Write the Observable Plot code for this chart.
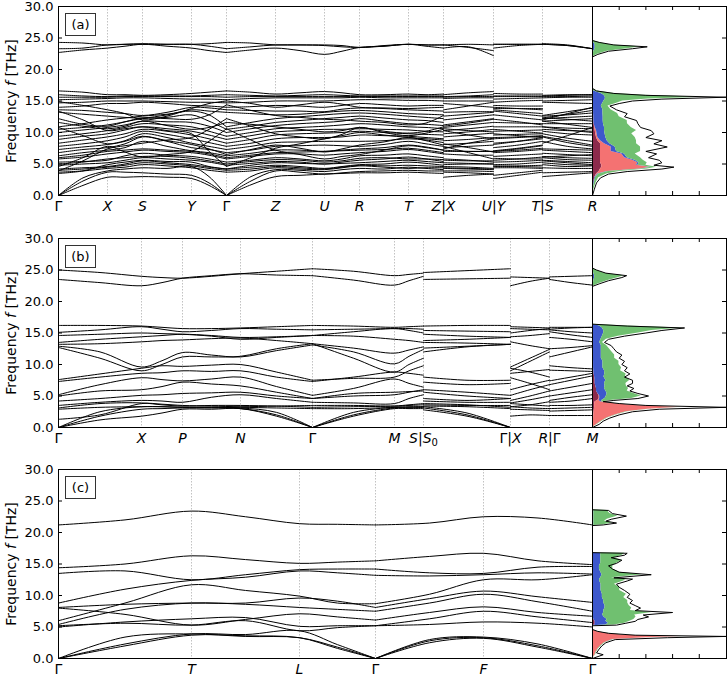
<!DOCTYPE html>
<html>
<head>
<meta charset="utf-8">
<script src="https://cdn.jsdelivr.net/npm/d3@7"></script>
<script src="https://cdn.jsdelivr.net/npm/@observablehq/plot@0.6"></script>
<style>
  body { margin: 0; background: white; font-family: "DejaVu Sans", sans-serif; }
  #root { position: relative; width: 728px; height: 678px; background: white; overflow: hidden; }
  .abs { position: absolute; }
  .ylab { position: absolute; font-size: 14px; white-space: nowrap; transform-origin: center center; transform: translate(-50%, -50%) rotate(-90deg); }
  .plab { position: absolute; border: 1px solid #333; font-size: 13px; width: 29px; height: 21px; line-height: 21px; text-align: center; background: white; }
</style>
</head>
<body>
<div id="root"></div>
<script>
// ---------------- Panel (a) ----------------
const tickPosA = [0, 0.49, 0.84, 1.33, 1.68, 2.17, 2.66, 3.01, 3.50, 3.85, 4.35, 4.84, 5.34];
const tickLabA = ["Γ", "X", "S", "Y", "Γ", "Z", "U", "R", "T", "Z|X", "U|Y", "T|S", "R"];
const kinkA = [1.68];
const qA = [0, 0.245, 0.49, 0.665, 0.84, 1.085, 1.33, 1.505, 1.68, 1.925, 2.17, 2.415, 2.66, 2.835, 3.01, 3.255, 3.50, 3.675, 3.85,
            3.85, 4.10, 4.35, 4.35, 4.595, 4.84, 4.84, 5.09, 5.34];
const pieceA = [0,0,0,0,0,0,0,0,0,0,0,0,0,0,0,0,0,0,0, 1,1,1, 2,2,2, 3,3,3];
const bandsA = [
  [0,1.6,2.9,2.9,3.0,2.9,2.7,1.6,0, 1.7,3.0,3.2,3.4,3.5,3.6,3.6,3.7,3.6,3.5, 2.9,3.2,3.4, 2.7,3.2,3.7, 3.0,3.3,3.6],
  [0,2.3,3.7,3.7,3.6,3.4,3.2,2.0,0, 2.3,3.9,3.7,3.4,3.6,3.8,3.9,4.0,3.9,3.9, 3.7,3.6,3.4, 3.2,3.6,4.0, 3.6,3.7,3.8],
  [0,2.8,3.9,4.2,4.4,4.3,4.6,3.0,0, 3.0,4.1,4.0,3.8,4.1,4.3,4.2,4.5,4.3,4.1, 3.9,3.9,3.8, 4.6,4.6,4.5, 4.4,4.3,4.3],
  [3.5,3.9,4.9,5.3,5.6,5.4,5.3,4.6,4.2, 4.8,5.2,5.1,5.0,5.1,5.2,5.4,5.6,5.4,5.2, 4.9,5.0,5.0, 5.3,5.4,5.6, 5.6,5.4,5.2],
  [3.7,3.9,4.3,4.5,4.9,4.7,4.4,4.0,3.7, 3.9,4.4,4.2,4.1,4.4,4.7,4.5,4.3,4.4,4.4, 4.3,4.2,4.1, 4.4,4.4,4.3, 4.9,4.6,4.7],
  [3.9,5.5,7.4,7.9,8.3,8.8,9.2,10.5,12.2, 11.0,9.8,9.3,9.0,9.7,10.8,10.0,9.5,9.9,10.5, 7.4,8.3,9.0, 9.2,9.3,9.5, 8.3,9.5,10.8],
  [4.0,4.2,4.5,4.8,5.2,5.0,4.7,4.3,4.0, 4.2,4.6,4.4,4.2,4.5,4.8,4.7,4.8,4.7,4.6, 4.4,4.3,4.2, 4.7,4.7,4.8, 5.2,4.9,4.8],
  [4.2,4.4,4.6,5.0,5.5,5.2,4.9,4.5,4.2, 4.5,4.8,4.6,4.3,4.6,4.9,5.0,5.3,5.1,4.8, 4.6,4.5,4.3, 4.9,5.0,5.3, 5.5,5.2,4.9],
  [4.6,6.0,7.8,6.9,6.1,6.5,7.0,8.6,10.6, 8.8,7.2,6.5,5.8,6.2,6.5,7.2,7.9,7.6,7.2, 7.8,6.8,5.8, 7.0,7.4,7.9, 6.1,6.3,6.5],
  [4.8,5.0,5.2,5.6,6.0,5.8,5.6,5.3,4.8, 5.1,5.4,5.3,5.0,5.3,5.6,5.8,6.1,5.8,5.4, 5.2,5.1,5.0, 5.6,5.8,6.1, 6.0,5.7,5.6],
  [5.0,5.3,5.8,6.0,6.2,6.2,5.9,5.5,5.0, 5.4,5.7,5.6,5.3,5.5,5.9,6.0,5.8,5.8,5.7, 5.8,5.6,5.3, 5.9,5.8,5.8, 6.2,6.0,5.9],
  [5.3,5.4,5.6,6.3,6.7,6.4,6.2,5.8,5.3, 5.6,6.0,5.8,5.5,5.8,6.3,6.4,6.6,6.3,6.0, 5.6,5.5,5.5, 6.2,6.4,6.6, 6.7,6.5,6.3],
  [5.8,6.1,6.6,6.9,7.2,7.0,6.8,6.4,5.8, 6.2,6.6,6.6,6.4,6.6,6.8,7.0,7.3,7.0,6.6, 6.6,6.4,6.4, 6.8,7.0,7.3, 7.2,7.0,6.8],
  [6.0,6.4,7.0,7.2,7.4,7.2,7.0,6.6,6.0, 6.4,6.8,6.9,7.0,7.1,7.2,7.3,7.5,7.2,6.8, 7.0,7.0,7.0, 7.0,7.2,7.5, 7.4,7.3,7.2],
  [6.3,6.8,7.2,7.6,8.6,7.8,7.1,6.8,6.3, 6.7,7.2,7.2,7.0,7.2,7.4,7.6,8.0,7.7,7.2, 7.2,7.0,7.0, 7.1,7.5,8.0, 8.6,7.8,7.4],
  [6.8,7.3,7.6,8.2,9.3,8.6,7.6,7.3,6.8, 7.2,7.8,7.9,8.0,7.9,7.8,8.1,8.6,8.2,7.8, 7.6,7.8,8.0, 7.6,8.0,8.6, 9.3,8.4,7.8],
  [7.3,7.7,8.1,8.7,9.8,9.2,8.3,7.8,7.3, 7.8,8.4,8.5,8.6,8.6,8.6,8.7,9.0,8.8,8.4, 8.1,8.3,8.6, 8.3,8.6,9.0, 9.8,9.1,8.6],
  [7.8,8.2,8.7,9.3,10.2,9.7,9.0,8.4,7.8, 8.3,9.0,9.2,9.2,9.3,9.6,9.5,9.4,9.2,9.0, 8.7,8.9,9.2, 9.0,9.2,9.4, 10.2,9.8,9.6],
  [8.3,8.8,9.3,9.8,10.5,10.2,9.6,9.0,8.3, 8.9,9.6,9.8,9.9,10.0,10.2,10.0,9.8,9.7,9.6, 9.3,9.6,9.9, 9.6,9.7,9.8, 10.5,10.3,10.2],
  [8.9,9.4,9.8,10.4,10.9,10.6,10.2,9.6,8.9, 9.5,10.1,10.3,10.5,10.5,10.6,10.5,10.4,10.2,10.1, 9.8,10.1,10.5, 10.2,10.3,10.4, 10.9,10.7,10.6],
  [9.4,9.8,10.3,10.8,11.4,11.2,10.9,10.2,9.4, 10.0,10.6,10.8,11.0,11.2,11.4,11.2,10.9,10.8,10.6, 10.3,10.6,11.0, 10.9,10.9,10.9, 11.4,11.4,11.4],
  [10.0,10.4,10.8,11.2,11.8,11.7,11.6,11.0,10.0, 10.6,11.1,11.4,11.6,11.8,12.2,11.8,11.4,11.3,11.1, 10.8,11.2,11.6, 11.6,11.5,11.4, 11.8,12.0,12.2],
  [10.5,10.8,11.2,11.7,12.2,12.4,12.8,11.8,10.5, 11.0,11.6,11.9,12.2,12.4,12.6,12.3,12.0,11.9,11.6, 11.2,11.7,12.2, 12.8,12.4,12.0, 12.2,12.4,12.6],
  [10.8,9.5,8.2,8.6,9.4,8.7,8.1,7.4,6.5, 7.3,8.0,7.5,6.9,7.4,8.0,8.5,9.2,8.7,8.0, 8.2,7.6,6.9, 8.1,8.6,9.2, 9.4,8.7,8.0],
  [10.9,11.4,12.0,12.3,12.6,12.9,13.4,12.8,10.9, 11.6,12.2,12.5,12.8,13.0,13.1,12.9,12.6,12.4,12.2, 12.0,12.4,12.8, 13.4,13.0,12.6, 12.6,12.8,13.1],
  [11.6,11.0,10.6,11.0,11.8,11.1,10.5,10.8,11.6, 11.3,10.9,10.5,10.1,10.3,10.8,10.2,9.9,10.2,10.9, 10.6,10.3,10.1, 10.5,10.2,9.9, 11.8,11.3,10.8],
  [12.2,11.3,11.0,11.7,12.3,12.2,12.1,12.8,14.4, 13.5,12.7,12.4,12.1,12.0,11.8,11.6,11.2,11.5,12.7, 11.0,11.5,12.1, 12.1,11.7,11.2, 12.3,12.1,11.8],
  [13.2,12.9,12.6,12.4,12.3,12.8,13.6,13.4,13.2, 13.0,12.8,12.9,13.2,13.4,13.5,13.3,13.0,12.9,12.8, 12.6,12.9,13.2, 13.6,13.3,13.0, 12.3,12.9,13.5],
  [13.4,12.0,10.3,10.6,10.9,10.3,9.8,7.0,4.6, 6.0,7.5,8.2,9.0,9.5,10.0,9.6,9.2,9.0,8.8, 10.3,9.6,9.0, 9.8,9.5,9.2, 10.9,10.4,10.0],
  [13.6,13.5,13.2,13.0,12.7,13.2,14.0,13.9,13.6, 13.5,13.4,13.4,13.3,13.7,13.9,13.8,13.6,13.5,13.4, 13.2,13.3,13.3, 14.0,13.8,13.6, 12.7,13.3,13.9],
  [14.0,14.2,14.6,14.6,14.8,14.6,14.3,14.2,14.0, 14.1,14.3,14.2,14.0,14.3,14.6,14.4,14.2,14.3,14.3, 14.6,14.3,14.0, 14.3,14.2,14.2, 14.8,14.7,14.6],
  [14.9,14.3,13.6,13.0,12.0,12.6,13.8,14.6,15.0, 14.6,14.0,14.4,14.8,14.5,14.0,13.9,13.8,13.9,14.0, 13.6,14.2,14.8, 13.8,13.8,13.8, 12.0,13.0,14.0],
  [14.7,14.8,15.0,15.0,15.0,14.9,14.8,14.8,14.7, 14.8,15.0,15.0,15.0,15.1,15.2,15.2,15.1,15.1,15.0, 15.0,15.0,15.0, 14.8,15.0,15.1, 15.0,15.1,15.2],
  [15.2,15.3,15.4,15.5,15.5,15.4,15.3,15.3,15.2, 15.4,15.5,15.5,15.5,15.5,15.6,15.5,15.5,15.5,15.5, 15.4,15.5,15.5, 15.3,15.4,15.5, 15.5,15.6,15.6],
  [15.6,15.6,15.6,15.7,15.7,15.7,15.7,15.7,15.6, 15.7,15.7,15.7,15.7,15.7,15.7,15.7,15.7,15.7,15.7, 15.6,15.7,15.7, 15.7,15.7,15.7, 15.7,15.7,15.8],
  [16.0,15.8,15.7,15.8,15.8,15.8,15.8,15.9,16.0, 15.9,15.8,15.9,16.0,15.9,15.8,15.8,15.8,15.8,15.8, 15.7,15.8,16.0, 15.8,15.8,15.8, 15.8,15.9,16.0],
  [16.6,16.4,16.0,16.0,15.9,16.0,16.2,16.4,16.6, 16.4,16.1,16.3,16.5,16.3,16.0,16.0,16.1,16.0,16.1, 16.0,16.3,16.5, 16.2,16.1,16.1, 15.9,16.0,16.0],
  [22.7,23.1,23.4,23.7,24.0,23.7,23.4,23.0,22.7, 23.1,23.4,23.0,22.4,22.9,23.5,23.7,24.0,23.7,23.4, 23.4,23.6,22.2, 23.4,23.8,24.0, 24.0,23.8,23.3],
  [23.3,23.4,23.9,24.0,24.0,24.0,24.0,23.7,23.3, 23.6,23.9,23.9,23.8,23.6,23.5,23.7,24.0,23.9,23.9, 23.9,23.5,23.0, 24.0,24.0,24.0, 24.0,23.8,23.3],
  [24.3,24.2,23.9,24.0,24.1,24.0,24.0,24.1,24.3, 24.2,23.9,23.9,23.9,23.8,23.5,23.8,24.0,23.9,23.9, 23.9,24.0,23.9, 24.0,24.0,24.0, 24.1,23.9,23.3]
];
// DOS (a): frequency, then stacked partial widths and total
const dosFreqA = [0,1.0,2.0,2.8,3.4,3.8,4.2,4.5,4.8,5.2,5.6,6.0,6.6,7.0,7.7,8.2,8.7,9.2,9.8,10.3,10.8,11.4,11.9,12.5,13.0,13.6,14.2,14.6,15.0,15.3,15.6,15.9,16.2,16.6,17.0,22.0,22.4,22.9,23.3,23.6,23.9,24.3,24.6,30];
const dosP1A = [0,0.02,0.05,0.08,0.15,0.25,0.3,0.35,0.35,0.3,0.3,0.3,0.3,0.3,0.3,0.3,0.2,0.15,0.12,0.1,0.08,0.06,0.05,0.05,0.04,0.04,0.03,0.03,0.03,0.03,0.03,0.03,0.02,0,0,0,0,0,0,0,0,0,0,0];
const dosP2A = [0,0,0,0,0.05,0.3,1.5,1.8,1.3,1.4,1.2,0.9,0.8,0.4,0.4,0.15,0.1,0.05,0.05,0.05,0.02,0,0,0,0,0,0,0,0,0,0,0,0,0,0,0,0,0,0,0,0,0,0,0];
const dosP3A = [0,0,0.02,0.03,0.03,0.05,0.05,0.05,0.05,0.05,0.1,0.1,0.1,0.2,0.15,0.2,0.25,0.3,0.3,0.3,0.35,0.35,0.35,0.35,0.35,0.35,0.3,0.35,0.4,0.45,0.45,0.4,0.3,0.05,0,0,0.02,0.05,0.1,0.1,0.1,0.05,0,0];
const dosP4A = [0,0.03,0.06,0.12,0.3,0.4,0.2,0.2,0.3,0.3,0.3,0.5,0.4,0.9,0.95,1.0,1.1,1.1,1.0,1.2,1.0,0.9,0.9,0.6,0.55,0.3,0.25,0.5,0.7,1.6,3.7,1.5,0.5,0.1,0,0,0.15,0.5,1.2,1.7,0.6,0.2,0,0];
const dosTotalA = [0,0.07,0.15,0.3,0.6,1.3,2.6,3.05,2.3,2.6,2.5,2.1,2.4,2.0,2.8,2.3,2.6,2.0,2.3,2.2,1.8,1.7,1.65,1.2,1.3,0.9,0.65,1.0,1.5,2.6,5.0,2.0,0.8,0.15,0,0,0.2,0.6,1.5,2.05,0.8,0.25,0,0];

// ---------------- Panel (b) ----------------
const tickPosB = [0, 0.83, 1.24, 1.82, 2.54, 3.36, 3.65, 4.52, 4.91, 5.34];
const tickLabB = ["Γ", "X", "P", "N", "Γ", "M", "S|S0", "Γ|X", "R|Γ", "M"];
const kinkB = [2.54];
const qB = [0, 0.415, 0.83, 1.035, 1.24, 1.53, 1.82, 2.18, 2.54, 2.95, 3.36, 3.505, 3.65,
            3.65, 4.085, 4.52, 4.52, 4.715, 4.91, 4.91, 5.125, 5.34];
const pieceB = [0,0,0,0,0,0,0,0,0,0,0,0,0, 1,1,1, 2,2,2, 3,3,3];
const bandsB = [
  [0,1.2,1.8,2.3,2.9,2.9,3.0,1.8,0,1.8,3.0,3.0,3.0, 2.8,1.8,0, 1.8,2.0,1.9, 1.9,1.9,1.9],
  [0,1.8,2.9,3.0,3.1,3.1,3.0,2.0,0,2.0,3.1,3.1,3.2, 3.1,2.0,0, 2.9,2.8,2.7, 2.6,2.7,2.8],
  [0,2.5,3.3,3.3,3.2,3.2,3.1,2.4,0,2.4,3.2,3.2,3.3, 3.3,2.3,0, 3.3,3.1,3.0, 3.0,3.1,3.2],
  [1.3,2.0,3.8,3.7,3.5,3.4,3.3,3.4,3.5,3.5,3.4,3.5,3.6, 3.6,3.5,3.5, 3.8,3.6,3.4, 3.5,3.5,3.6],
  [2.9,3.2,3.3,3.3,3.2,3.2,3.2,3.1,3.0,3.0,3.2,3.3,3.3, 3.4,3.3,3.0, 3.3,3.6,4.1, 4.0,4.2,4.6],
  [3.1,3.8,3.9,3.6,3.4,3.5,3.5,3.4,3.2,3.3,3.4,3.6,3.8, 3.8,3.6,3.2, 3.9,4.4,5.0, 4.3,4.8,5.2],
  [3.5,4.0,4.3,4.2,4.0,4.8,5.2,4.6,4.0,3.9,3.8,4.6,5.2, 4.2,4.0,4.0, 4.3,5.0,5.8, 5.0,5.5,6.0],
  [4.2,4.6,5.1,5.2,5.4,5.5,5.6,5.0,4.6,5.0,5.2,5.6,6.0, 4.6,4.3,4.6, 5.1,6.0,6.8, 5.8,6.4,7.0],
  [5.0,5.8,6.0,6.5,7.2,6.9,6.6,5.6,4.6,5.4,5.6,5.7,5.8, 5.6,5.0,4.6, 6.0,6.8,7.5, 6.8,7.5,8.2],
  [5.2,6.8,7.9,7.6,7.4,7.7,8.0,6.5,5.1,6.2,7.7,7.0,6.4, 6.0,5.6,5.1, 7.9,7.0,6.0, 7.4,8.0,8.6],
  [7.3,8.0,8.6,8.7,9.0,8.9,9.0,8.0,7.3,8.0,8.8,8.6,8.3, 7.2,6.8,7.0, 8.6,8.9,9.2, 9.1,9.0,8.9],
  [7.6,8.5,9.4,9.8,9.7,9.9,10.0,8.8,7.5,7.8,8.0,9.0,9.8, 8.0,7.5,7.5, 9.4,8.8,8.0, 9.8,9.5,9.3],
  [12.7,11.0,9.0,10.0,11.2,11.2,11.3,12.5,13.3,11.0,8.8,10.0,11.0, 12.0,12.8,13.2, 9.0,10.5,12.0, 11.2,12.0,12.8],
  [12.9,12.0,9.6,10.6,11.9,11.5,11.2,12.2,13.1,12.0,10.1,11.3,12.4, 12.6,12.9,13.2, 9.6,11.0,12.4, 12.5,12.7,13.0],
  [13.2,13.3,13.6,13.8,13.9,14.1,14.2,13.8,13.3,12.6,11.8,12.3,12.8, 13.5,13.4,13.2, 13.6,13.0,12.5, 14.3,14.0,13.6],
  [13.5,14.0,14.4,14.6,14.8,14.6,14.3,14.4,14.6,14.5,14.0,13.8,13.5, 13.8,14.0,14.3, 14.4,14.6,14.9, 15.2,14.7,14.3],
  [14.6,14.8,15.0,14.9,14.8,14.5,14.0,14.3,14.6,15.2,15.7,15.4,15.0, 14.8,14.5,14.3, 15.0,15.4,15.7, 15.5,15.2,15.0],
  [15.1,15.5,16.0,15.6,15.2,15.4,15.7,15.6,15.5,15.6,15.7,15.7,15.6, 15.4,15.3,15.2, 15.7,15.6,15.5, 15.6,15.8,15.9],
  [16.2,16.2,16.1,15.9,15.7,15.7,15.8,16.0,16.2,16.1,15.9,16.0,16.1, 16.1,16.2,16.2, 16.0,15.9,15.8, 15.9,15.9,15.9],
  [23.5,23.0,22.5,23.0,23.7,24.1,24.4,24.2,24.1,23.4,22.6,23.3,24.0, 23.5,23.6,23.7, 22.5,23.2,23.7, 23.5,23.0,22.6],
  [25.0,24.6,24.0,23.8,23.7,24.0,24.4,24.8,25.2,24.8,24.1,24.3,24.5, 24.6,24.9,25.2, 23.9,23.8,23.7, 23.9,24.0,24.1]
];
const dosFreqB = [0,0.5,1.0,1.5,2.0,2.5,2.9,3.2,3.5,3.8,4.1,4.3,4.6,5.0,5.4,5.8,6.2,6.6,7.0,7.5,8.0,8.5,9.0,9.5,10.0,10.5,11.0,11.5,12.0,12.5,13.0,13.5,14.0,14.5,15.0,15.4,15.8,16.1,16.4,22.4,22.8,23.3,23.8,24.1,24.5,25.0,25.3,30];
const dosP1B = [0,0.02,0.03,0.04,0.05,0.06,0.07,0.08,0.08,0.08,0.1,0.2,0.25,0.25,0.2,0.15,0.15,0.12,0.1,0.1,0.08,0.06,0.05,0.04,0.04,0.04,0.03,0.03,0.03,0.03,0.03,0.02,0.02,0.02,0.02,0.02,0.02,0.02,0,0,0,0,0,0,0,0,0,0];
const dosP2B = [0,0.15,0.3,0.5,0.8,1.2,2.0,3.2,1.5,0.7,0.2,0.05,0.02,0.02,0,0,0,0,0,0,0,0,0,0,0,0,0,0,0,0,0,0,0,0,0,0,0,0,0,0,0,0,0,0,0,0,0,0];
const dosP3B = [0,0,0,0,0,0,0,0.02,0.02,0.02,0.05,0.1,0.2,0.25,0.35,0.35,0.3,0.35,0.35,0.4,0.35,0.4,0.4,0.35,0.35,0.35,0.3,0.3,0.3,0.3,0.3,0.25,0.3,0.35,0.4,0.4,0.35,0.25,0,0,0.03,0.05,0.08,0.08,0.05,0.02,0,0];
const dosP4B = [0,0.02,0.03,0.03,0.04,0.05,0.05,0.05,0.05,0.05,0.05,0.3,1.0,1.3,1.0,0.8,0.9,0.8,0.8,0.9,0.8,0.8,0.6,0.7,0.6,0.6,0.5,0.5,0.4,0.3,0.2,0.1,0.2,0.6,1.3,1.8,3.0,1.0,0,0,0.2,0.5,0.9,1.1,0.4,0.1,0,0];
const dosTotalB = [0,0.25,0.4,0.65,1.0,1.5,2.5,5.0,2.0,1.0,0.4,0.8,1.7,2.1,1.7,1.4,1.55,1.3,1.5,1.5,1.2,1.4,1.2,1.3,1.1,1.2,1.0,1.1,0.9,0.8,0.7,0.45,0.6,1.2,2.0,2.6,3.45,1.3,0,0,0.25,0.6,1.1,1.28,0.5,0.15,0,0];

// ---------------- Panel (c) ----------------
const tickPosC = [0, 1.33, 2.41, 3.17, 4.25, 5.34];
const tickLabC = ["Γ", "T", "L", "Γ", "F", "Γ"];
const kinkC = [3.17];
const qC = [0, 0.665, 1.33, 1.87, 2.41, 2.79, 3.17, 3.71, 4.25, 4.795, 5.34];
const pieceC = [0,0,0,0,0,0,0,0,0,0,0];
const bandsC = [
  [0,2.0,3.7,3.6,3.3,1.6,0,2.5,3.2,1.8,0],
  [0,2.3,3.9,3.8,4.4,2.2,0,3.0,3.4,2.3,0],
  [0,3.4,3.9,3.5,3.3,1.8,0,2.8,3.3,2.0,0],
  [5.2,5.6,5.3,6.0,4.4,4.9,5.2,5.4,5.8,5.6,5.0],
  [5.0,5.8,6.3,6.5,5.1,5.2,5.2,6.3,7.5,6.6,5.7],
  [8.0,7.0,5.3,6.2,7.1,6.6,6.1,7.3,8.2,7.3,6.7],
  [5.4,7.8,8.8,8.6,8.1,7.8,7.5,8.8,10.2,9.0,7.5],
  [8.1,8.6,8.8,8.8,9.6,9.1,8.1,9.5,10.7,9.8,8.9],
  [6.0,8.8,11.7,10.8,9.9,8.8,8.7,10.2,12.5,12.5,13.3],
  [8.8,11.0,12.4,12.9,13.9,13.6,13.2,13.1,13.3,13.6,13.4],
  [13.5,13.9,12.5,13.3,14.1,14.2,14.2,13.6,13.5,14.5,14.6],
  [14.4,15.0,16.3,15.7,15.1,15.3,15.5,16.2,16.7,15.5,14.9],
  [21.2,22.0,23.4,22.5,21.4,21.3,21.2,21.5,22.5,22.3,21.2]
];
const dosFreqC = [0,0.6,0.9,1.5,2.0,2.5,3.0,3.3,3.5,3.7,4.0,4.3,4.6,5.2,5.3,5.6,5.9,6.2,6.6,6.9,7.3,7.6,8.0,8.4,8.8,9.2,9.7,10.2,10.8,11.3,11.8,12.3,12.6,12.8,13.3,13.7,14.2,14.7,15.1,15.6,16.0,16.4,16.7,16.8,21.1,21.2,21.5,21.8,22.1,22.6,23.0,23.5,23.6,30];
const dosP1C = [0,0,0,0,0,0,0,0,0,0,0,0,0,0,0.1,0.1,0.1,0.05,0.03,0.03,0.02,0.02,0.02,0.02,0.02,0.02,0.02,0.02,0.02,0.02,0.02,0.02,0.02,0.01,0.01,0.01,0.01,0.01,0.01,0.01,0.01,0.01,0.01,0,0,0,0,0,0,0,0,0,0,0];
const dosP2C = [0,0.1,0.12,0.2,0.3,0.45,0.75,2.0,3.3,1.2,0.5,0.15,0,0,0,0,0,0,0,0,0,0,0,0,0,0,0,0,0,0,0,0,0,0,0,0,0,0,0,0,0,0,0,0,0,0,0,0,0,0,0,0,0,0];
const dosP3C = [0,0,0,0,0,0,0.02,0.02,0.02,0.02,0.02,0,0,0,0.4,0.5,0.4,0.5,0.4,0.35,0.4,0.4,0.45,0.45,0.4,0.4,0.35,0.35,0.3,0.3,0.3,0.25,0.25,0.3,0.35,0.3,0.25,0.25,0.3,0.3,0.3,0.3,0.3,0,0,0.05,0.05,0.05,0.05,0.05,0.05,0.05,0,0];
const dosP4C = [0,0.02,0.02,0.02,0.03,0.03,0.03,0.03,0.05,0.05,0.05,0.02,0,0,0.3,0.6,0.9,1.0,1.2,1.2,1.8,1.0,1.0,0.9,0.9,0.9,0.8,0.9,0.7,0.7,0.5,0.9,1.0,0.4,1.5,0.7,0.5,0.5,0.6,0.8,0.5,0.8,0.9,0,0,0.3,0.7,0.4,0.5,0.9,0.6,0.5,0,0];
const dosTotalC = [0,0.4,0.15,0.25,0.35,0.5,0.85,2.8,5.0,1.6,0.6,0.2,0,0,0.9,1.25,1.6,1.7,2.1,1.9,3.0,1.6,1.8,1.6,1.4,1.5,1.3,1.4,1.2,1.0,0.9,1.3,1.5,0.8,2.2,1.0,0.75,0.6,0.9,1.1,0.7,1.2,1.3,0,0,0.4,0.9,0.5,0.7,1.27,0.75,0.6,0,0];

const freqTicks = [0, 5, 10, 15, 20, 25, 30];
const dosTicks = [1, 2, 3, 4];
const panelNames = ["(a)", "(b)", "(c)"];
const compNames = ["p1", "p2", "p3", "p4"];
const compColors = ["#8c2a4c", "#f47272", "#3d58cc", "#70c070"];

// ---------------- drawing ----------------
const root = document.getElementById("root");
const FONT = "DejaVu Sans, sans-serif";
const NS = "http://www.w3.org/2000/svg";
const frameH = 189, mTop = 6, mBot = 26;

function styleLabels(svg) {
  svg.querySelectorAll('g[aria-label="x-axis tick label"] text').forEach(t => {
    const s = t.textContent;
    t.textContent = "";
    for (const ch of s) {
      const ts = document.createElementNS(NS, "tspan");
      ts.textContent = ch;
      if (ch === "0") {
        ts.setAttribute("font-size", "10");
        ts.setAttribute("dy", "3");
      } else if (ch !== "Γ" && ch !== "|") {
        ts.setAttribute("font-style", "italic");
      }
      t.appendChild(ts);
    }
  });
}

function bandPlot(q, piece, bands, tickPos, tickLab, kinks) {
  const rows = [];
  bands.forEach((b, bi) => {
    let seg = 0, lastPiece = piece[0];
    b.forEach((v, i) => {
      if (piece[i] !== lastPiece) { seg++; lastPiece = piece[i]; }
      rows.push({q: q[i], f: v, z: bi + "-" + seg});
      if (kinks.includes(q[i]) && i > 0 && i < b.length - 1 && piece[i + 1] === piece[i]) {
        seg++;
        rows.push({q: q[i], f: v, z: bi + "-" + seg});
      }
    });
  });
  const lab = new Map(tickPos.map((p, i) => [p, tickLab[i]]));
  const svg = Plot.plot({
    width: 592, height: frameH + mTop + mBot,
    marginLeft: 58, marginRight: 0, marginTop: mTop, marginBottom: mBot,
    style: {fontFamily: FONT, fontSize: "13px", background: "transparent", color: "black"},
    x: {domain: [0, 5.34]},
    y: {domain: [0, 30]},
    marks: [
      Plot.ruleX(tickPos.slice(1, -1), {stroke: "#a8a8a8", strokeWidth: 0.7, strokeDasharray: "1.5,1.5"}),
      Plot.line(rows, {x: "q", y: "f", z: "z", curve: "catmull-rom", stroke: "black", strokeWidth: 1}),
      Plot.tickY(freqTicks.slice(1, -1), {y: d => d, insetRight: 534 - 4, stroke: "black"}),
      Plot.axisY({ticks: freqTicks, tickSize: 0, tickPadding: 5, tickFormat: d => d.toFixed(1), label: null, fontSize: 13}),
      Plot.axisX({ticks: tickPos, tickSize: 0, tickPadding: 6, tickFormat: d => lab.get(d), label: null, fontSize: 14}),
      Plot.frame({stroke: "black", strokeWidth: 1})
    ]
  });
  styleLabels(svg);
  return svg;
}

function dosPlot(freq, parts, total) {
  const rows = [];
  parts.forEach((arr, ci) => arr.forEach((v, i) => rows.push({f: freq[i], v, c: compNames[ci]})));
  const tot = total.map((v, i) => ({f: freq[i], v}));
  return Plot.plot({
    width: 136, height: frameH + mTop + mBot,
    marginLeft: 0, marginRight: 2, marginTop: mTop, marginBottom: mBot,
    style: {fontFamily: FONT, fontSize: "13px", background: "transparent"},
    x: {domain: [0, 5.02], axis: null},
    y: {domain: [0, 30], axis: null},
    color: {domain: compNames, range: compColors},
    marks: [
      Plot.areaX(rows, {y: "f", x: "v", fill: "c", order: compNames, curve: "linear", clip: true}),
      Plot.lineX(tot, {y: "f", x: "v", stroke: "black", strokeWidth: 1, clip: true}),
      Plot.tickY(freqTicks.slice(1, -1), {y: d => d, insetLeft: 134 - 4, stroke: "black"}),
      Plot.tickX(dosTicks, {x: d => d, insetBottom: frameH - 4, stroke: "black"}),
      Plot.tickX(dosTicks, {x: d => d, insetTop: frameH - 4, stroke: "black"}),
      Plot.frame({stroke: "black", strokeWidth: 1})
    ]
  });
}

const panels = [
  {top: 0, band: [qA, pieceA, bandsA, tickPosA, tickLabA, kinkA], dos: [dosFreqA, [dosP1A, dosP2A, dosP3A, dosP4A], dosTotalA]},
  {top: 232, band: [qB, pieceB, bandsB, tickPosB, tickLabB, kinkB], dos: [dosFreqB, [dosP1B, dosP2B, dosP3B, dosP4B], dosTotalB]},
  {top: 463, band: [qC, pieceC, bandsC, tickPosC, tickLabC, kinkC], dos: [dosFreqC, [dosP1C, dosP2C, dosP3C, dosP4C], dosTotalC]}
];

panels.forEach((p, i) => {
  const b = bandPlot(...p.band);
  b.classList.add("abs");
  b.style.left = "0px"; b.style.top = p.top + "px"; b.style.overflow = "visible";
  root.appendChild(b);
  const d = dosPlot(...p.dos);
  d.classList.add("abs");
  d.style.left = "592px"; d.style.top = p.top + "px"; d.style.overflow = "visible";
  root.appendChild(d);
  const yl = document.createElement("div");
  yl.className = "ylab";
  yl.innerHTML = "Frequency <i>f</i> [THz]";
  yl.style.left = "11px"; yl.style.top = (p.top + mTop + frameH / 2) + "px";
  root.appendChild(yl);
  const pl = document.createElement("div");
  pl.className = "plab";
  pl.textContent = panelNames[i];
  pl.style.left = "65px"; pl.style.top = (p.top + mTop + 7) + "px";
  root.appendChild(pl);
});
</script>
</body>
</html>
